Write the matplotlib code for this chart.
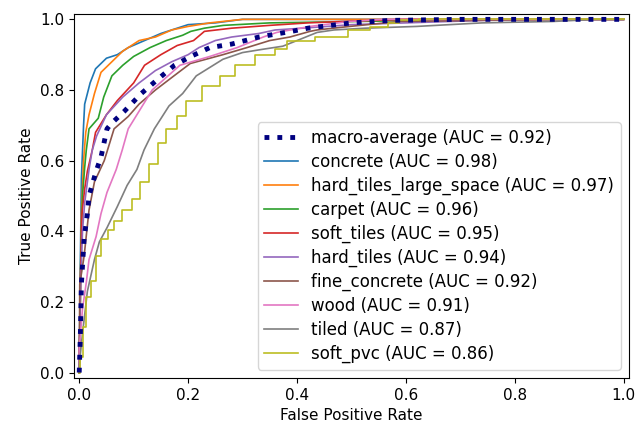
import numpy as np
import matplotlib
matplotlib.use("Agg")
import matplotlib.pyplot as plt

# --------------------------------------------------------------------
# Dades llegides del gràfic (FPR, TPR) per a cada classe
# --------------------------------------------------------------------

macro_fpr = [0, 0.002, 0.004, 0.009, 0.015, 0.018, 0.031, 0.04, 0.051, 0.059, 0.083, 0.114,
             0.144, 0.175, 0.205, 0.24, 0.28, 0.33, 0.39, 0.42, 0.5, 0.57, 0.7, 1]
macro_tpr = [0, 0.1, 0.25, 0.38, 0.45, 0.50, 0.57, 0.61, 0.69, 0.705, 0.74, 0.79,
             0.83, 0.87, 0.895, 0.92, 0.93, 0.95, 0.966, 0.975, 0.99, 0.997, 1.0, 1.0]

concrete_fpr = [0, 0.002, 0.004, 0.008, 0.01, 0.02, 0.03, 0.05, 0.07, 0.09, 0.12, 0.15,
                0.18, 0.2, 0.25, 0.3, 1]
concrete_tpr = [0, 0.3, 0.55, 0.7, 0.76, 0.82, 0.86, 0.89, 0.90, 0.92, 0.94, 0.96,
                0.975, 0.985, 0.99, 1.0, 1.0]

hts_fpr = [0, 0.002, 0.004, 0.008, 0.012, 0.018, 0.028, 0.04, 0.06, 0.08, 0.11, 0.14,
           0.17, 0.2, 0.24, 0.3, 1]
hts_tpr = [0, 0.2, 0.45, 0.6, 0.68, 0.73, 0.79, 0.85, 0.88, 0.91, 0.94, 0.95,
           0.97, 0.98, 0.99, 1.0, 1.0]

carpet_fpr = [0, 0.002, 0.003, 0.006, 0.01, 0.013, 0.018, 0.035, 0.045, 0.06, 0.08, 0.1,
              0.13, 0.16, 0.19, 0.205, 0.23, 0.265, 0.35, 0.55, 0.65, 1]
carpet_tpr = [0, 0.2, 0.35, 0.5, 0.58, 0.63, 0.69, 0.72, 0.78, 0.84, 0.87, 0.895,
              0.92, 0.94, 0.955, 0.966, 0.975, 0.983, 0.99, 0.995, 1.0, 1.0]

soft_tiles_fpr = [0, 0.002, 0.005, 0.01, 0.015, 0.024, 0.03, 0.05, 0.07, 0.1, 0.12, 0.15,
                  0.18, 0.21, 0.23, 0.28, 0.35, 0.42, 0.5, 0.6, 1]
soft_tiles_tpr = [0, 0.25, 0.45, 0.52, 0.57, 0.63, 0.68, 0.73, 0.77, 0.82, 0.87, 0.90,
                  0.926, 0.94, 0.966, 0.975, 0.983, 0.99, 0.995, 1.0, 1.0]

hard_tiles_fpr = [0, 0.002, 0.006, 0.01, 0.018, 0.024, 0.032, 0.05, 0.08, 0.11, 0.14, 0.17,
                  0.2, 0.22, 0.25, 0.28, 0.33, 0.36, 0.41, 0.5, 0.6, 0.8, 1]
hard_tiles_tpr = [0, 0.2, 0.4, 0.48, 0.575, 0.63, 0.67, 0.73, 0.78, 0.82, 0.855, 0.88,
                  0.9, 0.92, 0.94, 0.95, 0.96, 0.97, 0.975, 0.985, 0.99, 1.0, 1.0]

fine_concrete_fpr = [0, 0.001, 0.009, 0.018, 0.028, 0.046, 0.064, 0.09, 0.11, 0.14, 0.174,
                     0.204, 0.228, 0.264, 0.308, 0.35, 0.387, 0.424, 0.437, 0.497, 0.589, 0.88, 1]
fine_concrete_tpr = [0, 0.25, 0.33, 0.46, 0.54, 0.60, 0.69, 0.725, 0.76, 0.80, 0.84,
                     0.875, 0.885, 0.90, 0.92, 0.94, 0.95, 0.966, 0.97, 0.98, 0.994, 1.0, 1.0]

wood_fpr = [0, 0.0, 0.006, 0.013, 0.018, 0.024, 0.031, 0.04, 0.051, 0.068, 0.079, 0.09,
            0.134, 0.185, 0.24, 0.29, 0.338, 0.363, 0.424, 0.497, 0.558, 1]
wood_tpr = [0, 0.065, 0.18, 0.255, 0.32, 0.35, 0.385, 0.45, 0.51, 0.575, 0.63, 0.69,
            0.80, 0.87, 0.895, 0.92, 0.95, 0.963, 0.98, 0.994, 1.0, 1.0]

tiled_fpr = [0, 0.0, 0.006, 0.015, 0.028, 0.037, 0.051, 0.07, 0.088, 0.106, 0.119, 0.138,
             0.165, 0.19, 0.215, 0.264, 0.3, 0.336, 0.374, 0.405, 0.437, 0.468, 0.525,
             0.62, 0.74, 0.87, 0.95, 1]
tiled_tpr = [0, 0.02, 0.11, 0.23, 0.32, 0.37, 0.41, 0.47, 0.53, 0.575, 0.63, 0.69,
             0.755, 0.79, 0.84, 0.887, 0.906, 0.915, 0.924, 0.943, 0.963, 0.97, 0.975,
             0.98, 0.99, 0.994, 1.0, 1.0]

soft_pvc_fpr = [0, 0.004, 0.009, 0.015, 0.028, 0.033, 0.046, 0.059, 0.07, 0.088, 0.105,
                0.12, 0.138, 0.15, 0.169, 0.19, 0.204, 0.246, 0.272, 0.301, 0.345, 0.375,
                0.387, 0.479, 0.51, 0.558, 0.576, 0.6, 0.65, 1]
soft_pvc_tpr = [0, 0.045, 0.13, 0.215, 0.26, 0.33, 0.377, 0.405, 0.43, 0.46, 0.49,
                0.54, 0.59, 0.65, 0.69, 0.725, 0.77, 0.81, 0.84, 0.87, 0.90, 0.915,
                0.94, 0.949, 0.97, 0.977, 0.99, 0.997, 1.0, 1.0]

class_names = ["concrete", "hard_tiles_large_space", "carpet", "soft_tiles", "hard_tiles",
               "fine_concrete", "wood", "tiled", "soft_pvc"]
class_auc = [0.98, 0.97, 0.96, 0.95, 0.94, 0.92, 0.91, 0.87, 0.86]
macro_auc = 0.92

class_curves = [
    (concrete_fpr, concrete_tpr),
    (hts_fpr, hts_tpr),
    (carpet_fpr, carpet_tpr),
    (soft_tiles_fpr, soft_tiles_tpr),
    (hard_tiles_fpr, hard_tiles_tpr),
    (fine_concrete_fpr, fine_concrete_tpr),
    (wood_fpr, wood_tpr),
    (tiled_fpr, tiled_tpr),
    (soft_pvc_fpr, soft_pvc_tpr),
]
colors = ["tab:blue", "tab:orange", "tab:green", "tab:red", "tab:purple",
          "tab:brown", "tab:pink", "tab:gray", "tab:olive"]
# la corba de soft_pvc té graons ben visibles
styles = ["default"] * 8 + ["steps-mid"]

# --------------------------------------------------------------------
# Gràfic
# --------------------------------------------------------------------

fig = plt.figure(figsize=(6.36, 4.26), dpi=100)
ax = fig.add_axes([0.116, 0.113, 0.873, 0.854])

ax.plot(macro_fpr, macro_tpr, color="navy", linestyle=":", linewidth=3.5,
        label=f"macro-average (AUC = {macro_auc:.2f})", zorder=3)

for (fpr, tpr), name, auc, c, ds in zip(class_curves, class_names, class_auc, colors, styles):
    ax.plot(fpr, tpr, color=c, linewidth=1.2, drawstyle=ds,
            label=f"{name} (AUC = {auc:.2f})")

ax.set_xlim(-0.01, 1.01)
ax.set_ylim(-0.015, 1.015)
ax.set_xlabel("False Positive Rate", fontsize=11)
ax.set_ylabel("True Positive Rate", fontsize=11)
ax.tick_params(labelsize=11)
ax.legend(loc="lower right", fontsize=12, labelspacing=0.35)

fig.savefig("out.png", dpi=100)
